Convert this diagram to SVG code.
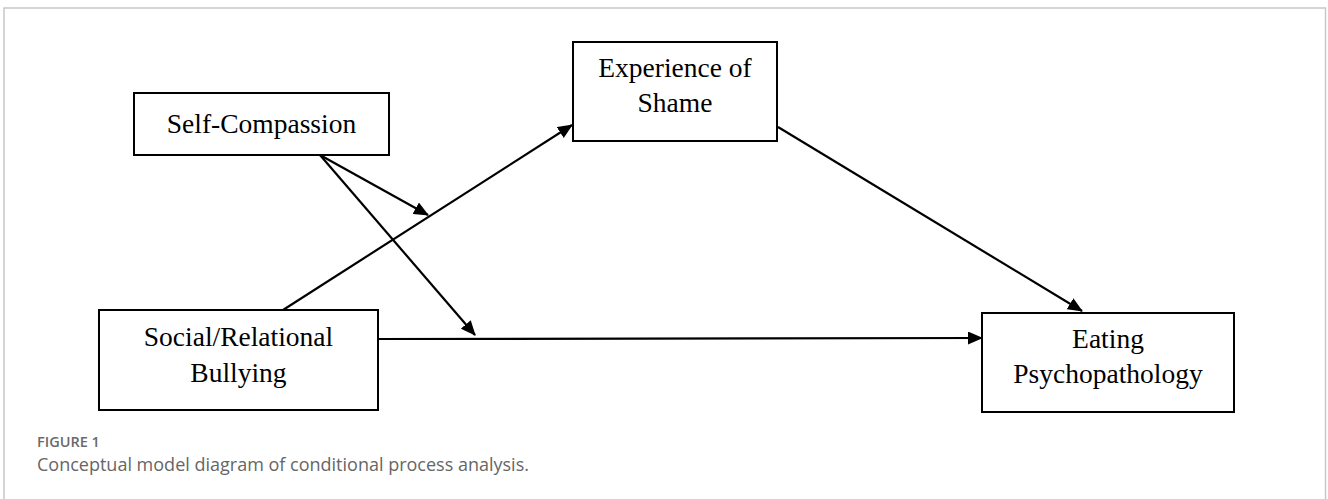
<svg xmlns="http://www.w3.org/2000/svg" width="1328" height="499" viewBox="0 0 1328 499">
<style>
.box{fill:#fff;stroke:#000;stroke-width:2}
.lbl{font-family:"Liberation Serif","Times New Roman",serif;font-size:27.5px;fill:#000;text-anchor:middle}
.conn{stroke:#000;stroke-width:2.2;fill:none;marker-end:url(#ah)}
.fig{font-family:"Open Sans","Noto Sans",sans-serif;font-size:14.5px;font-weight:600;fill:#6a6a6a}
.cap{font-family:"Open Sans","Noto Sans",sans-serif;font-size:18px;fill:#666}
</style>
<defs>
<marker id="ah" markerUnits="userSpaceOnUse" viewBox="0 0 15 13" markerWidth="15" markerHeight="13" refX="14" refY="6.5" orient="auto">
<path d="M0,0 L15,6.5 L0,13 z" fill="#000"/>
</marker>
</defs>
<rect width="1328" height="499" fill="#fff"/>
<rect x="4" y="8" width="1321.5" height="520" fill="none" stroke="#c8c8c8" stroke-width="1.5"/>
<g id="connectors">
<line class="conn" x1="283" y1="310" x2="572" y2="125"/>
<line class="conn" x1="320" y1="155" x2="428" y2="215"/>
<line class="conn" x1="320" y1="155" x2="475" y2="335"/>
<line class="conn" x1="378" y1="339" x2="982" y2="338"/>
<line class="conn" x1="778" y1="127" x2="1082" y2="311"/>
</g>
<g id="self-compassion">
<rect class="box" x="134" y="93" width="255" height="62"/>
<text class="lbl" x="261.5" y="133">Self-Compassion</text>
</g>
<g id="experience-of-shame">
<rect class="box" x="573" y="42" width="204" height="99"/>
<text class="lbl" x="675" y="77">Experience of</text>
<text class="lbl" x="675" y="112">Shame</text>
</g>
<g id="social-relational-bullying">
<rect class="box" x="99" y="310" width="279" height="100"/>
<text class="lbl" x="238.5" y="346">Social/Relational</text>
<text class="lbl" x="238.5" y="382">Bullying</text>
</g>
<g id="eating-psychopathology">
<rect class="box" x="982" y="313" width="252" height="99"/>
<text class="lbl" x="1108" y="348">Eating</text>
<text class="lbl" x="1108" y="383">Psychopathology</text>
</g>
<text class="fig" x="37" y="447">FIGURE 1</text>
<text class="cap" x="37" y="471">Conceptual model diagram of conditional process analysis.</text>
</svg>
